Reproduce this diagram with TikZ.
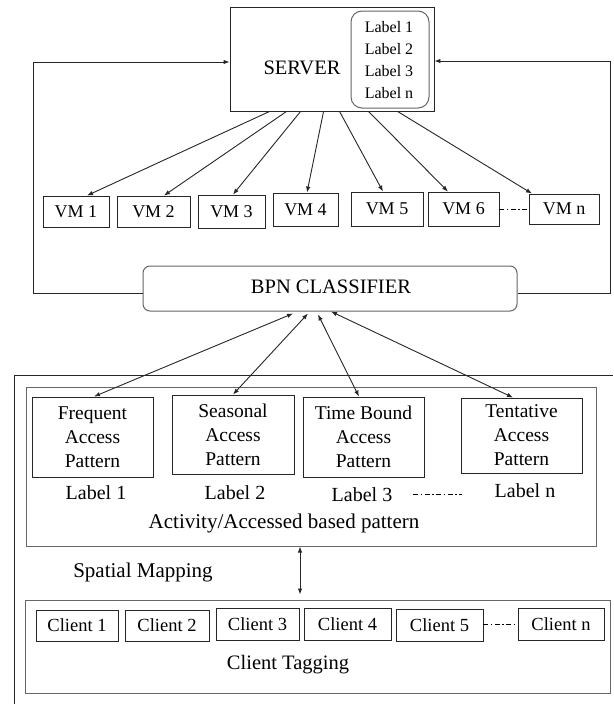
\documentclass[tikz,border=0pt]{standalone}
\usepackage{fontspec}
\setmainfont{Liberation Serif}
\usetikzlibrary{arrows.meta,calc}

\tikzset{
  tip/.style={-{Latex[length=6pt,width=4.5pt]}},
  biarrow/.style={{Latex[length=6pt,width=4.5pt]}-{Latex[length=6pt,width=4.5pt]}},
  link/.style={line width=0.9pt, draw=black!85},
  box/.style={draw=black!85, line width=0.9pt, inner sep=0pt, anchor=center},
  greybox/.style={draw=black!60, line width=1pt, inner sep=0pt},
  vmbox/.style={box, font=\fontsize{18}{20}\selectfont},
  clientbox/.style={box, font=\fontsize{18.5}{20}\selectfont},
  patbox/.style={box, align=center, font=\fontsize{19.5}{24}\selectfont},
  txt/.style={inner sep=0pt, font=\fontsize{20}{24}\selectfont},
  dashdot/.style={line width=0.8pt, dash pattern=on 5pt off 2.5pt on 1.5pt off 2.5pt},
}

\begin{document}
\begin{tikzpicture}[x=1pt, y=-1pt]
  \useasboundingbox (0,0) rectangle (613,704);

  % ---- server with its label list ----
  \node[box, minimum width=204, minimum height=104] (server) at (332,59) {};
  \node[greybox, rounded corners=11pt, minimum width=78, minimum height=97] (labels) at (390,59.5) {};
  \node[txt, font=\fontsize{20.5}{24}\selectfont] (srvtxt) at (302,68) {SERVER};
  \node[txt, font=\fontsize{16}{18}\selectfont] (sl1) at (389,27) {Label 1};
  \node[txt, font=\fontsize{16}{18}\selectfont] (sl2) at (389,49) {Label 2};
  \node[txt, font=\fontsize{16}{18}\selectfont] (sl3) at (389,71) {Label 3};
  \node[txt, font=\fontsize{16}{18}\selectfont] (sln) at (389,93) {Label n};

  % ---- virtual machines ----
  \node[vmbox, minimum width=66, minimum height=31] (vm1) at (76,211.5) {VM 1};
  \node[vmbox, minimum width=73, minimum height=31] (vm2) at (153.5,211.5) {VM 2};
  \node[vmbox, minimum width=67, minimum height=33] (vm3) at (231.5,211.5) {VM 3};
  \node[vmbox, minimum width=65, minimum height=33] (vm4) at (305.5,209.5) {VM 4};
  \node[vmbox, minimum width=72, minimum height=34] (vm5) at (387,209) {VM 5};
  \node[vmbox, minimum width=71, minimum height=34] (vm6) at (463.5,209) {VM 6};
  \node[vmbox, minimum width=70, minimum height=30] (vmn) at (564,209) {VM n};

  % server to each VM
  \draw[link, tip] ([xshift=40]server.south west)  -- ([xshift=11]vm1.north);
  \draw[link, tip] ([xshift=57]server.south west)  -- ([xshift=10.5]vm2.north);
  \draw[link, tip] ([xshift=71]server.south west)  -- ([xshift=1.5]vm3.north);
  \draw[link, tip] ([xshift=94]server.south west)  -- ([xshift=1.5]vm4.north);
  \draw[link, tip] ([xshift=110]server.south west) -- ([xshift=-4]vm5.north);
  \draw[link, tip] ([xshift=139]server.south west) -- ([xshift=-15.5]vm6.north);
  \draw[link, tip] ([xshift=168]server.south west) -- ([xshift=-32]vmn.north);
  \draw[dashdot] (vm6.east) -- (vmn.west);

  % ---- classifier ----
  \node[greybox, rounded corners=7pt, minimum width=374, minimum height=45] (bpn) at (330,288.5) {};
  \node[txt, font=\fontsize{20.5}{24}\selectfont] (bpntxt) at (331,287) {BPN CLASSIFIER};

  % feedback loops from the classifier to the server
  \coordinate (lbend) at (33,293);
  \coordinate (rbend) at (610,293);
  \draw[link, tip] ([yshift=-4.5]bpn.west) -- (lbend) -- (lbend |- 0,62) -- ([yshift=-3]server.west);
  \draw[link, tip] ([yshift=-4.5]bpn.east) -- (rbend) -- (rbend |- 0,61) -- ([yshift=-2]server.east);

  % ---- outer frame of the lower part ----
  \draw[link] (613,375) -- (14,375) -- (14,704);

  % ---- activity / access patterns ----
  \node[greybox, minimum width=570, minimum height=159] (act) at (311,466.5) {};
  \node[patbox, minimum width=121, minimum height=80] (freq) at (92.5,437) {Frequent\\Access\\Pattern};
  \node[patbox, minimum width=122, minimum height=79] (seas) at (233,434.5) {Seasonal\\Access\\Pattern};
  \node[patbox, minimum width=121, minimum height=80] (tbnd) at (363.5,437) {Time Bound\\Access\\Pattern};
  \node[patbox, minimum width=121, minimum height=75] (tent) at (521.5,435.5) {Tentative\\Access\\Pattern};
  \node[txt] (lab1) at (96,493) {Label 1};
  \node[txt] (lab2) at (235,493) {Label 2};
  \node[txt] (lab3) at (362,495) {Label 3};
  \node[txt] (labn) at (525,491) {Label n};
  \draw[dashdot] ([xshift=21]lab3.east |- 0,494) -- ([xshift=-33]labn.west |- 0,494);
  \node[txt, font=\fontsize{21}{24}\selectfont] (acttxt) at (284,523) {Activity/Accessed based pattern};

  % classifier to each pattern
  \draw[link, biarrow] ([xshift=-37,yshift=-2]bpn.south) -- ([xshift=1.5]freq.north);
  \draw[link, biarrow] ([xshift=-22,yshift=-2]bpn.south) -- (seas.north);
  \draw[link, biarrow] ([xshift=-12,yshift=-3]bpn.south) -- ([xshift=-4.5]tbnd.north);
  \draw[link, biarrow] ([xshift=1]bpn.south) -- ([xshift=-8.5]tent.north);

  % ---- spatial mapping and client tagging ----
  \node[txt, font=\fontsize{21}{24}\selectfont] (spat) at (143,572) {Spatial Mapping};
  \node[greybox, minimum width=585, minimum height=93] (tag) at (317.5,646.5) {};
  \draw[link, biarrow, shorten >=5pt] ([xshift=-11]act.south) -- ([xshift=-17.5]tag.north);

  \node[clientbox, minimum width=82, minimum height=31] (c1) at (77,625.5) {Client 1};
  \node[clientbox, minimum width=84, minimum height=31] (c2) at (167,625.5) {Client 2};
  \node[clientbox, minimum width=83, minimum height=32] (c3) at (257.5,624) {Client 3};
  \node[clientbox, minimum width=87, minimum height=32] (c4) at (347.5,624) {Client 4};
  \node[clientbox, minimum width=87, minimum height=32] (c5) at (439.5,625) {Client 5};
  \node[clientbox, minimum width=86, minimum height=32] (cn) at (561,624) {Client n};
  \draw[dashdot] (c5.east |- 0,624) -- (cn.west);
  \node[txt, font=\fontsize{20.5}{24}\selectfont] (tagtxt) at (288,665) {Client Tagging};
\end{tikzpicture}
\end{document}
